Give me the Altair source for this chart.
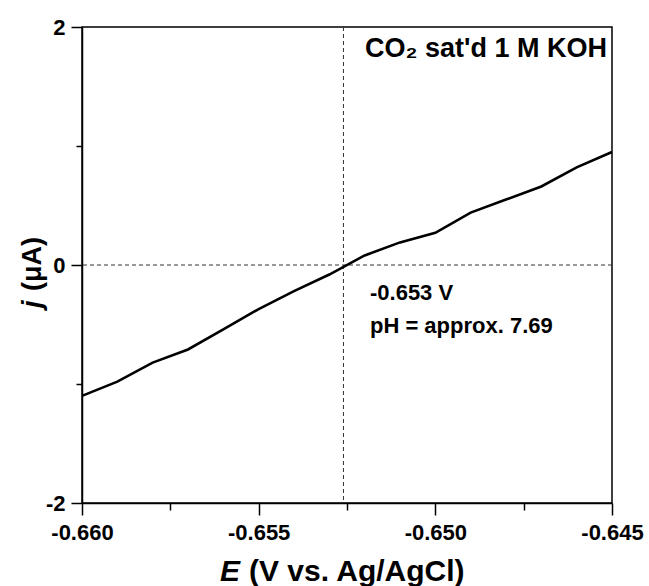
import altair as alt
import pandas as pd

# ---- data ----
E_V = [-0.660, -0.659, -0.658, -0.657, -0.656, -0.655, -0.654, -0.653,
       -0.652, -0.651, -0.650, -0.649, -0.648, -0.647, -0.646, -0.645]
J_UA = [-1.10, -0.98, -0.82, -0.71, -0.54, -0.37, -0.22, -0.08,
        0.08, 0.19, 0.27, 0.44, 0.55, 0.66, 0.82, 0.95]
X_TICKS = [-0.660, -0.655, -0.650, -0.645]
X_MINOR = [-0.6575, -0.6525, -0.6475]
Y_TICKS = [-2, 0, 2]
Y_MINOR = [-1, 1]
CROSS_E = [-0.6526]
ZERO_J = [0]
LABEL_TOP = ["CO\u2082 sat'd 1 M KOH"]
LABEL_TOP_E = [-0.645]
LABEL_TOP_J = [1.815]
LABEL_LOW = ["-0.653 V", "pH = approx. 7.69"]
LABEL_LOW_E = [-0.65185, -0.65185]
LABEL_LOW_J = [-0.235, -0.515]

FONT = "Liberation Sans"

df = pd.DataFrame({"E": E_V, "j": J_UA})
xscale = alt.Scale(domain=[-0.660, -0.645], nice=False, zero=False)
yscale = alt.Scale(domain=[-2, 2], nice=False, zero=False)

common = dict(grid=False, title=None, tickColor="black", tickWidth=1.5,
              domainColor="black", domainWidth=1.5, labelColor="black",
              labelFont=FONT, labelFontWeight="bold", labelFontSize=22,
              labelFlush=False, labelOverlap=False)

x_major = alt.Axis(values=X_TICKS, tickSize=12, labelPadding=7,
                   labelExpr="(datum.value < 0 ? '-' : '') + format(abs(datum.value), '.3f')",
                   orient="bottom", **common)
y_major = alt.Axis(values=Y_TICKS, tickSize=11, labelPadding=6,
                   labelExpr="(datum.value < 0 ? '-' : '') + format(abs(datum.value), 'd')",
                   orient="left", **common)
x_minor = alt.Axis(values=X_MINOR, tickSize=7, labels=False, domain=False, grid=False,
                   title=None, tickColor="black", tickWidth=1.5, orient="bottom")
y_minor = alt.Axis(values=Y_MINOR, tickSize=6, labels=False, domain=False, grid=False,
                   title=None, tickColor="black", tickWidth=1.5, orient="left")

line = alt.Chart(df).mark_line(color="black", strokeWidth=2.6).encode(
    x=alt.X("E:Q", scale=xscale, axis=x_major),
    y=alt.Y("j:Q", scale=yscale, axis=y_major),
)

minor = alt.Chart(df).mark_point(opacity=0).encode(
    x=alt.X("E:Q", scale=xscale, axis=x_minor),
    y=alt.Y("j:Q", scale=yscale, axis=y_minor),
)

hrule = alt.Chart(pd.DataFrame({"j": ZERO_J})).mark_rule(
    color="#333333", strokeWidth=1, strokeDash=[4, 3]
).encode(y=alt.Y("j:Q", scale=yscale, axis=None))

vrule = alt.Chart(pd.DataFrame({"E": CROSS_E})).mark_rule(
    color="#333333", strokeWidth=1, strokeDash=[4, 3]
).encode(x=alt.X("E:Q", scale=xscale, axis=None))

top_txt = alt.Chart(pd.DataFrame({"E": LABEL_TOP_E, "j": LABEL_TOP_J, "t": LABEL_TOP})).mark_text(
    align="right", baseline="middle", dx=-5, font=FONT, fontWeight="bold", fontSize=27, color="black"
).encode(x=alt.X("E:Q", scale=xscale, axis=None),
         y=alt.Y("j:Q", scale=yscale, axis=None), text="t:N")

low_txt = alt.Chart(pd.DataFrame({"E": LABEL_LOW_E, "j": LABEL_LOW_J, "t": LABEL_LOW})).mark_text(
    align="left", baseline="middle", font=FONT, fontWeight="bold", fontSize=22, color="black"
).encode(x=alt.X("E:Q", scale=xscale, axis=None),
         y=alt.Y("j:Q", scale=yscale, axis=None), text="t:N")

# axis titles (mixed italic / upright)
title_df = pd.DataFrame({"a": [0]})
xt_e = alt.Chart(title_df).mark_text(
    align="left", baseline="alphabetic", font=FONT, fontWeight="bold", fontStyle="italic",
    fontSize=30, color="black", text="E"
).encode(x=alt.value(138), y=alt.value(554))
xt_rest = alt.Chart(title_df).mark_text(
    align="left", baseline="alphabetic", font=FONT, fontWeight="bold",
    fontSize=30, color="black", text="(V vs. Ag/AgCl)"
).encode(x=alt.value(167), y=alt.value(554))
yt_j = alt.Chart(title_df).mark_text(
    align="left", baseline="alphabetic", angle=270, font=FONT, fontWeight="bold", fontStyle="italic",
    fontSize=27, color="black", text="j"
).encode(x=alt.value(-41), y=alt.value(281))
yt_rest = alt.Chart(title_df).mark_text(
    align="left", baseline="alphabetic", angle=270, font=FONT, fontWeight="bold",
    fontSize=27, color="black", text="(\u03bcA)"
).encode(x=alt.value(-41), y=alt.value(264))

chart = alt.layer(
    hrule, vrule, line, minor, top_txt, low_txt, xt_e, xt_rest, yt_j, yt_rest
).resolve_axis(x="independent", y="independent").properties(
    width=530, height=476,
    autosize=alt.AutoSizeParams(type="none"),
    padding={"left": 82, "top": 27, "right": 37, "bottom": 83},
    background="white",
).configure_view(stroke="black", strokeWidth=1.5)

chart.save("out.html", embed_options={"renderer": "svg", "actions": False})
